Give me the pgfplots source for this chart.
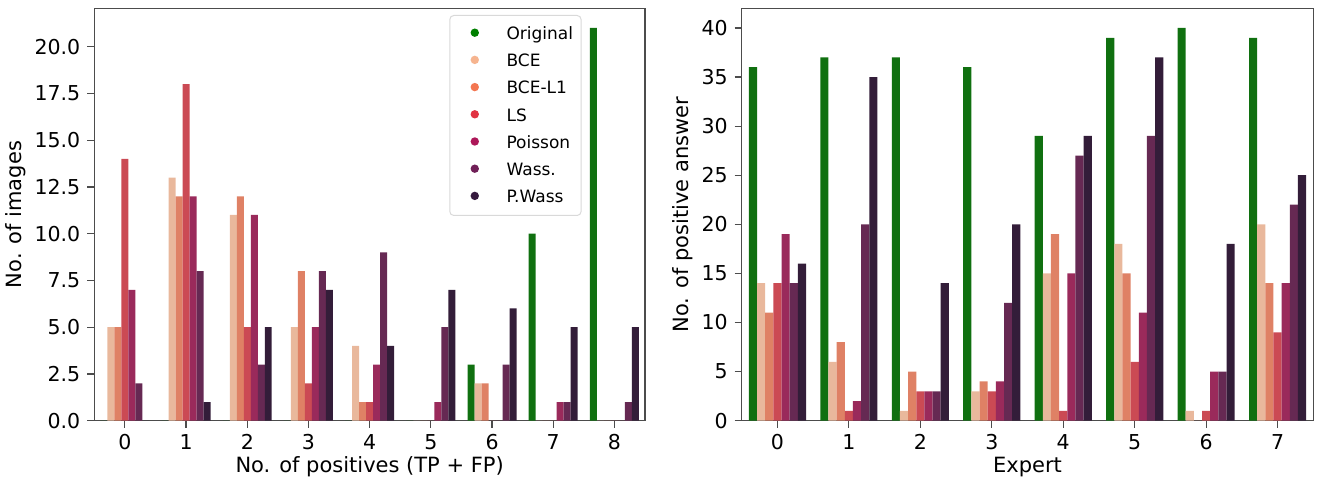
\documentclass[border=0pt]{standalone}
\usepackage{pgfplots}
\usepackage{pgfplotstable}
\pgfplotsset{compat=1.18}
\usepackage{fontspec}
\setmainfont{DejaVu Sans}

% desaturated bar colours (seaborn saturation 0.75)
\definecolor{bOrig}{HTML}{107010}
\definecolor{bBCE}{HTML}{E9B89C}
\definecolor{bBCEL}{HTML}{DF8165}
\definecolor{bLS}{HTML}{CB4A54}
\definecolor{bPoi}{HTML}{9A2A5B}
\definecolor{bWass}{HTML}{662953}
\definecolor{bPW}{HTML}{331D39}
% full legend colours
\definecolor{lOrig}{HTML}{008000}
\definecolor{lBCE}{HTML}{F6B48F}
\definecolor{lBCEL}{HTML}{F37651}
\definecolor{lLS}{HTML}{E13342}
\definecolor{lPoi}{HTML}{AD1759}
\definecolor{lWass}{HTML}{701F57}
\definecolor{lPW}{HTML}{35193E}

\pgfplotstableread{
x orig bce bcel ls poi wass pw
0 0  5  5  14 7  2 0
1 0  13 12 18 12 8 1
2 0  11 12 5  11 3 5
3 0  5  8  2  5  8 7
4 0  4  1  1  3  9 4
5 0  0  0  0  1  5 7
6 3  2  2  0  0  3 6
7 10 0  0  0  1  1 5
8 21 0  0  0  0  1 5
}\lefttab

\pgfplotstableread{
x orig bce bcel ls poi wass pw
0 36 14 11 14 19 14 16
1 37 6  8  1  2  20 35
2 37 1  5  3  3  3  14
3 36 3  4  3  4  12 20
4 29 15 19 1  15 27 29
5 39 18 15 6  11 29 37
6 40 1  0  1  5  5  18
7 39 20 14 9  14 22 25
}\righttab

\pgfplotsset{
  common/.style={
    scale only axis,
    height=206.2pt,
    ymin=0,
    axis line style={black!70, line width=0.6pt},
    major tick style={black!70, line width=0.6pt},
    major tick length=3.5pt,
    tick align=outside,
    tick pos=left,
    tick label style={font=\fontsize{10.25}{12}\selectfont},
    /pgf/number format/assume math mode=true,
    label style={font=\fontsize{10.5}{12}\selectfont},
    xlabel style={at={(axis description cs:0.5,-0.1244)}, anchor=base},
  },
  bars/.style={ybar, bar width=0.1142857, draw=none, forget plot},
}

\begin{document}
\begin{tikzpicture}
\useasboundingbox (0,0) rectangle (662.5pt,244pt);

\begin{axis}[common,
  at={(47.15pt,33.65pt)}, anchor=south west,
  width=275.35pt,
  xmin=-0.5, xmax=8.5, xtick={0,...,8},
  ymax=22.05, ytick={0,2.5,...,20},
  yticklabel style={/pgf/number format/.cd, fixed, fixed zerofill, precision=1},
  xlabel={No. of positives (TP + FP)},
  ylabel={No. of images},
  ylabel style={at={(axis description cs:-0.1431,0.5)}, anchor=center},
  legend cell align=left,
  legend image code/.code={%
    \path[draw=none, fill=none, rounded corners=0pt] (-8.5pt,0pt) rectangle (15.9pt,0pt);
    \fill[draw=none, rounded corners=0pt, #1] (0pt,0.6pt) circle (2.1pt);},
  legend style={at={(0.6446,0.9838)}, anchor=north west,
    draw=black!15, rounded corners=2pt, line width=0.5pt,
    inner xsep=4pt, inner ysep=2.4pt, row sep=0pt,
    font=\fontsize{8.5}{10}\selectfont,
    nodes={inner xsep=0pt, inner ysep=0pt, text height=9.6pt, text depth=4pt}},
]
\addplot[bars, fill=bOrig, bar shift=-0.342857] table[x=x,y=orig] {\lefttab};
\addplot[bars, fill=bBCE,  bar shift=-0.228571] table[x=x,y=bce]  {\lefttab};
\addplot[bars, fill=bBCEL, bar shift=-0.114286] table[x=x,y=bcel] {\lefttab};
\addplot[bars, fill=bLS,   bar shift=0]         table[x=x,y=ls]   {\lefttab};
\addplot[bars, fill=bPoi,  bar shift=0.114286]  table[x=x,y=poi]  {\lefttab};
\addplot[bars, fill=bWass, bar shift=0.228571]  table[x=x,y=wass] {\lefttab};
\addplot[bars, fill=bPW,   bar shift=0.342857]  table[x=x,y=pw]   {\lefttab};
\addlegendimage{lOrig}\addlegendentry{Original}
\addlegendimage{lBCE}\addlegendentry{BCE}
\addlegendimage{lBCEL}\addlegendentry{BCE-L1}
\addlegendimage{lLS}\addlegendentry{LS}
\addlegendimage{lPoi}\addlegendentry{Poisson}
\addlegendimage{lWass}\addlegendentry{Wass.}
\addlegendimage{lPW}\addlegendentry{P.Wass}
\end{axis}

\begin{axis}[common,
  at={(370.85pt,33.65pt)}, anchor=south west,
  width=285.8pt,
  xmin=-0.5, xmax=7.5, xtick={0,...,7},
  ymax=42, ytick={0,5,...,40},
  xlabel={Expert},
  ylabel={No. of positive answer},
  ylabel style={at={(axis description cs:-0.1027,0.5)}, anchor=center},
]
\addplot[bars, fill=bOrig, bar shift=-0.342857] table[x=x,y=orig] {\righttab};
\addplot[bars, fill=bBCE,  bar shift=-0.228571] table[x=x,y=bce]  {\righttab};
\addplot[bars, fill=bBCEL, bar shift=-0.114286] table[x=x,y=bcel] {\righttab};
\addplot[bars, fill=bLS,   bar shift=0]         table[x=x,y=ls]   {\righttab};
\addplot[bars, fill=bPoi,  bar shift=0.114286]  table[x=x,y=poi]  {\righttab};
\addplot[bars, fill=bWass, bar shift=0.228571]  table[x=x,y=wass] {\righttab};
\addplot[bars, fill=bPW,   bar shift=0.342857]  table[x=x,y=pw]   {\righttab};
\end{axis}
\end{tikzpicture}
\end{document}
